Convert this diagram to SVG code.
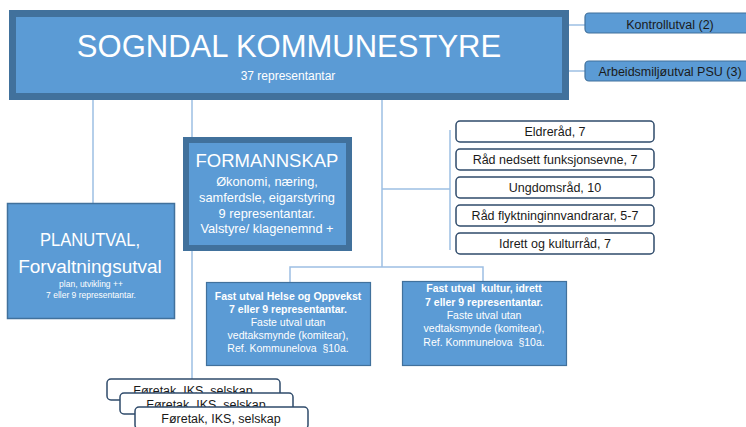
<svg xmlns="http://www.w3.org/2000/svg" width="746" height="427" viewBox="0 0 746 427">
<style>
text{font-family:"Liberation Sans",Arial,sans-serif;text-anchor:middle}
.conn line,.conn polyline{stroke:#9DBFE3;stroke-width:1.5;fill:none}
.blue{fill:#5B9BD5;stroke:#41719C}
.pill{fill:#5B9BD5;stroke:#41719C;stroke-width:1.2}
.wbox{fill:#FFFFFF;stroke:#2F4B6B;stroke-width:1.5}
.w{fill:#FFFFFF}
.d{fill:#1A1A1A}
.fu{font-size:10.5px;fill:#FFFFFF}
.b{font-weight:bold}
</style>
<rect width="746" height="427" fill="#FFFFFF"/>
<g id="connectors" class="conn">
<line x1="569" y1="25" x2="585" y2="25"/>
<line x1="569" y1="71" x2="585" y2="71"/>
<line x1="93" y1="100" x2="93" y2="203"/>
<line x1="192" y1="100" x2="192" y2="379"/>
<line x1="382" y1="100" x2="382" y2="267"/>
<line x1="382" y1="189" x2="450" y2="189"/>
<line x1="450" y1="130" x2="450" y2="250"/>
<polyline points="290,282 290,267 483,267 483,281"/>
</g>
<g id="kommunestyre">
<rect class="blue" x="12.5" y="13.5" width="553" height="83" stroke-width="7"/>
<text x="289" y="57" class="w" font-size="31">SOGNDAL KOMMUNESTYRE</text>
<text x="288" y="80" class="w" font-size="12">37 representantar</text>
</g>
<g id="kontrollutval">
<rect class="pill" x="585" y="13" width="175" height="20" rx="4"/>
<text x="670" y="29" class="d" font-size="12.5">Kontrollutval (2)</text>
</g>
<g id="arbeidsmiljoutval">
<rect class="pill" x="585" y="61" width="175" height="20" rx="4"/>
<text x="670" y="76" class="d" font-size="12.5">Arbeidsmiljøutval PSU (3)</text>
</g>
<g id="planutval">
<rect class="blue" x="7.5" y="203.5" width="167" height="115" stroke-width="1.5"/>
<text x="90" y="246" class="w" font-size="19" textLength="100" lengthAdjust="spacingAndGlyphs">PLANUTVAL,</text>
<text x="90" y="273" class="w" font-size="19">Forvaltningsutval</text>
<text x="91" y="287" class="w" font-size="8.5">plan, utvikling ++</text>
<text x="91" y="298" class="w" font-size="8.5">7 eller 9 representantar.</text>
</g>
<g id="formannskap">
<rect class="blue" x="186" y="140" width="163" height="108" stroke-width="6"/>
<text x="267" y="167" class="w" font-size="18.5">FORMANNSKAP</text>
<text x="267" y="186" class="w" font-size="12.8">Økonomi, næring,</text>
<text x="267" y="202" class="w" font-size="12.8">samferdsle, eigarstyring</text>
<text x="267" y="218" class="w" font-size="12.8">9 representantar.</text>
<text x="267" y="233" class="w" font-size="12.8">Valstyre/ klagenemnd +</text>
</g>
<g id="eldrerad">
<rect class="wbox" x="456" y="121" width="198" height="21" rx="4"/>
<text x="555" y="136" class="d" font-size="12.5">Eldreråd, 7</text>
</g>
<g id="rad-funksjonsevne">
<rect class="wbox" x="456" y="149" width="198" height="21" rx="4"/>
<text x="555" y="164" class="d" font-size="12.5">Råd nedsett funksjonsevne, 7</text>
</g>
<g id="ungdomsrad">
<rect class="wbox" x="456" y="177" width="198" height="21" rx="4"/>
<text x="555" y="192" class="d" font-size="12.5">Ungdomsråd, 10</text>
</g>
<g id="rad-flyktning">
<rect class="wbox" x="456" y="205" width="198" height="21" rx="4"/>
<text x="555" y="220" class="d" font-size="12.5">Råd flyktninginnvandrarar, 5-7</text>
</g>
<g id="idrett-kulturrad">
<rect class="wbox" x="456" y="233" width="198" height="21" rx="4"/>
<text x="555" y="248" class="d" font-size="12.5">Idrett og kulturråd, 7</text>
</g>
<g id="helse-oppvekst">
<rect class="blue" x="206.5" y="282.5" width="164" height="83" stroke-width="1.2"/>
<text x="288" y="300" class="fu b">Fast utval Helse og Oppvekst</text>
<text x="288" y="313" class="fu b">7 eller 9 representantar.</text>
<text x="288" y="326" class="fu">Faste utval utan</text>
<text x="288" y="339" class="fu">vedtaksmynde (komitear),</text>
<text x="288" y="352" class="fu" xml:space="preserve">Ref. Kommunelova  §10a.</text>
</g>
<g id="kultur-idrett">
<rect class="blue" x="402.5" y="281.5" width="164" height="84" stroke-width="1.2"/>
<text x="484" y="292" class="fu b" xml:space="preserve">Fast utval  kultur, idrett</text>
<text x="484" y="306" class="fu b">7 eller 9 representantar.</text>
<text x="484" y="319" class="fu">Faste utval utan</text>
<text x="484" y="332" class="fu">vedtaksmynde (komitear),</text>
<text x="484" y="346" class="fu" xml:space="preserve">Ref. Kommunelova  §10a.</text>
</g>
<g id="foretak-1">
<rect class="wbox" x="107" y="379" width="173" height="21" rx="4"/>
<text x="193" y="395" class="d" font-size="12.5">Føretak, IKS, selskap</text>
</g>
<g id="foretak-2">
<rect class="wbox" x="120" y="393" width="173" height="21" rx="4"/>
<text x="206" y="409" class="d" font-size="12.5">Føretak, IKS, selskap</text>
</g>
<g id="foretak-3">
<rect class="wbox" x="135" y="407" width="173" height="22" rx="4"/>
<text x="221" y="423" class="d" font-size="12.5">Føretak, IKS, selskap</text>
</g>
</svg>
